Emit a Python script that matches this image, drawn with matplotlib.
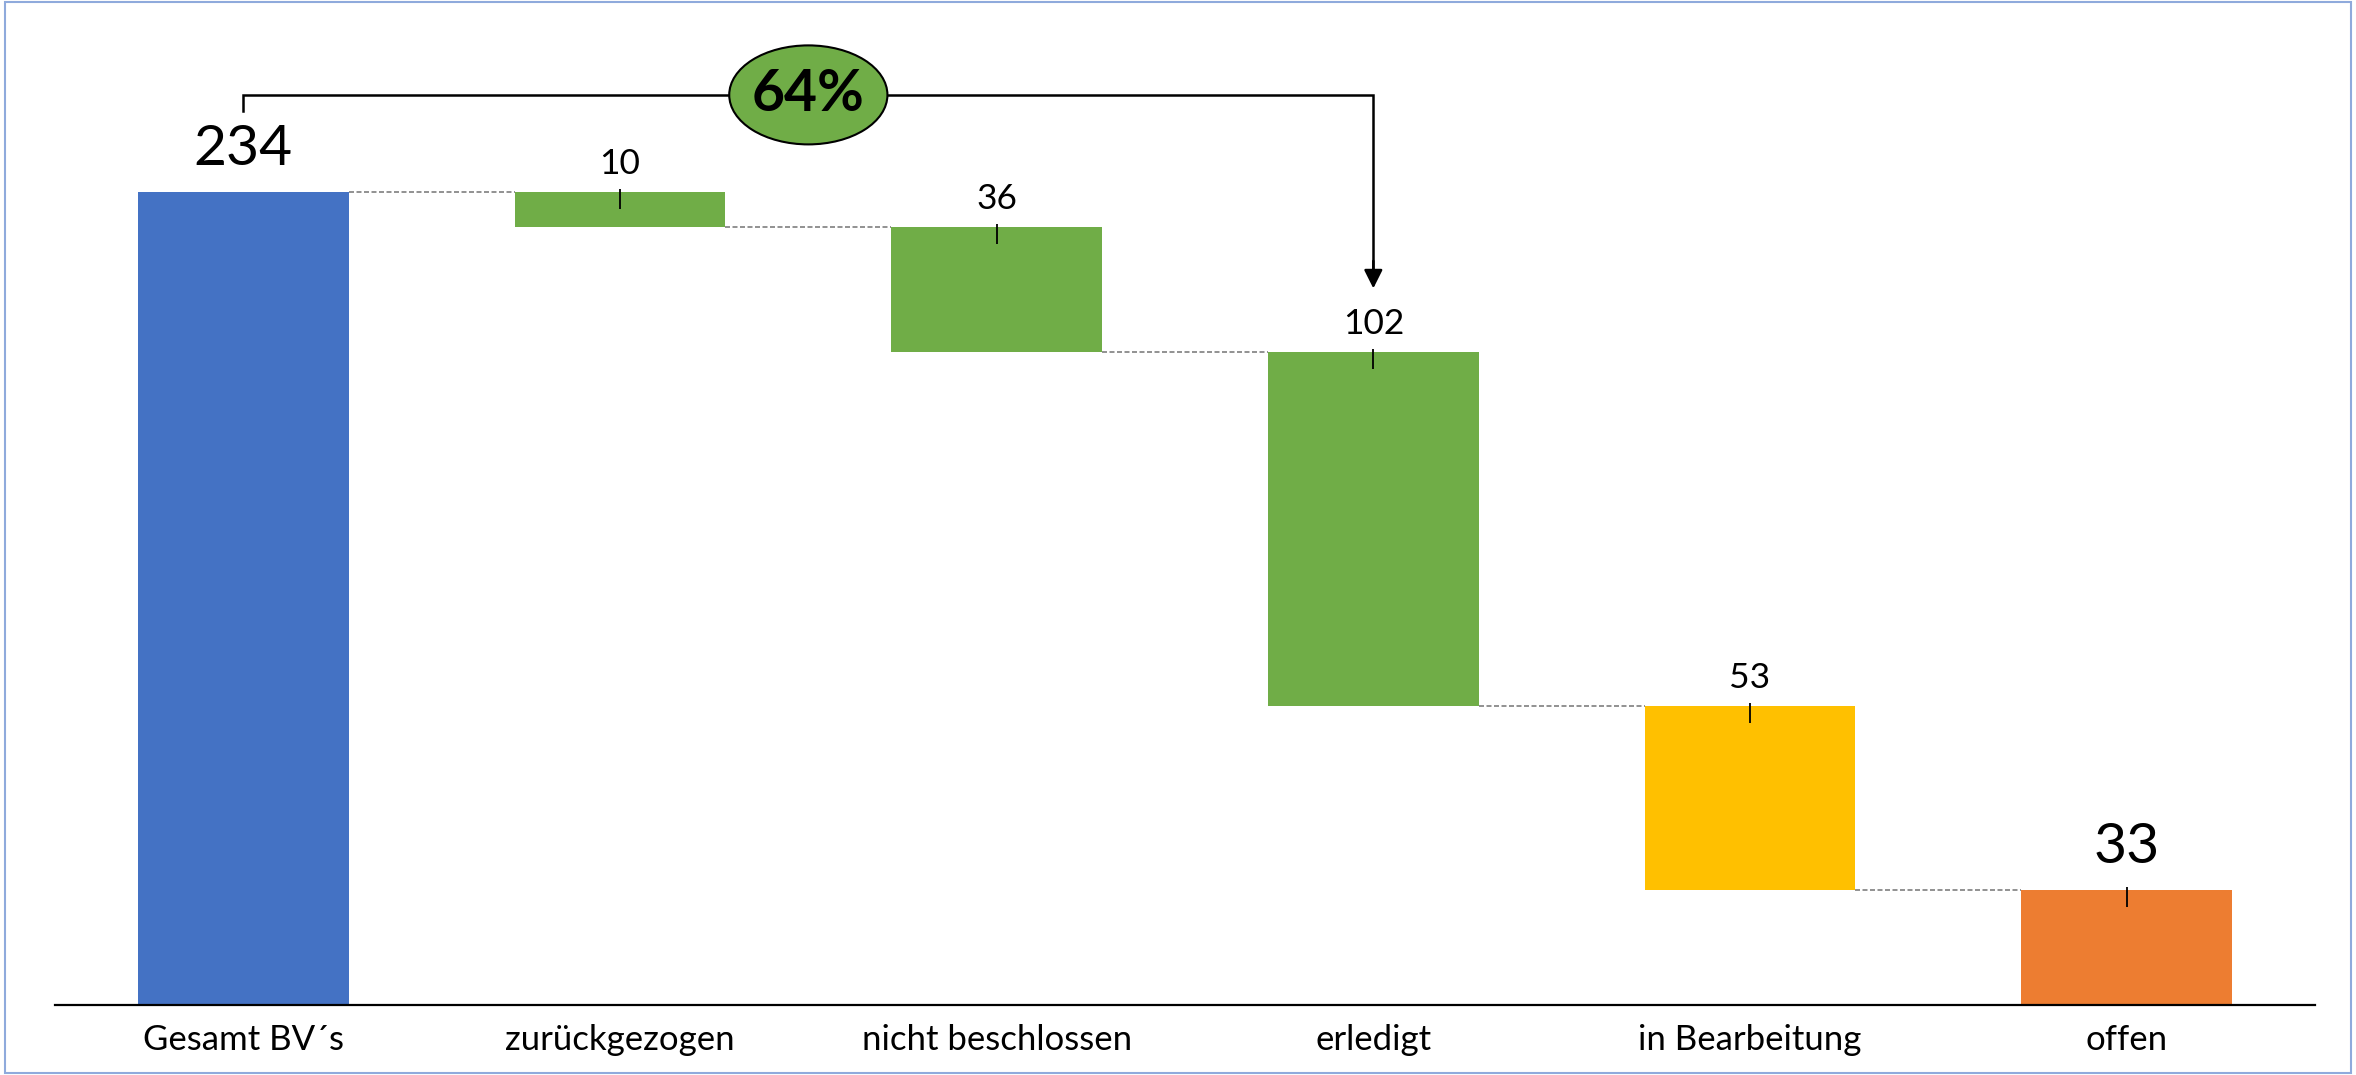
import matplotlib.pyplot as plt
from matplotlib.patches import Ellipse, Rectangle
import matplotlib.transforms as mtransforms

plt.rcParams['font.family'] = ['Lato', 'DejaVu Sans']

categories = ['Gesamt BV´s', 'zurückgezogen', 'nicht beschlossen', 'erledigt', 'in Bearbeitung', 'offen']
values = [234, 10, 36, 102, 53, 33]
bar_colors = ['#4472C4', '#70AD47', '#70AD47', '#70AD47', '#FFC000', '#ED7D31']
share_label = '64%'

# waterfall geometry: first and last are totals, the rest step down
bottoms = []
tops = []
level = values[0]
for i, v in enumerate(values):
    if i == 0 or i == len(values) - 1:
        bottoms.append(0)
        tops.append(v)
    else:
        tops.append(level)
        level = level - v
        bottoms.append(level)

fig = plt.figure(figsize=(23.56, 10.75), dpi=100)
ax = fig.add_axes([55 / 2356, 70 / 1075, 2260 / 2356, 990 / 1075])

x = list(range(len(categories)))
width = 0.56
heights = [t - b for t, b in zip(tops, bottoms)]
ax.bar(x, heights, bottom=bottoms, width=width, color=bar_colors, zorder=2)

# dashed connectors between bars
for i in range(len(values) - 1):
    lvl = bottoms[i] if 0 < i else tops[i]
    ax.plot([i + width / 2, i + 1 - width / 2], [lvl, lvl], ls=(0, (3, 1.5)),
            color='#7F7F7F', lw=1.2, zorder=1)

# little tick marks and value labels
tick_tr = mtransforms.offset_copy(ax.transData, fig=fig, x=0, y=-7, units='dots')
for i, v in enumerate(values):
    if i > 0:
        ax.plot([i], [tops[i]], marker='|', markersize=14, mew=1.3, color='black',
                transform=tick_tr, zorder=3)
    big = i == 0 or i == len(values) - 1
    ax.annotate(str(v), (i, tops[i]), xytext=(0, 31 if big else 20),
                textcoords='offset points', ha='center', va='center',
                fontsize=41 if big else 25.5, color='black')

# bracket with arrow from total to "erledigt"
yb = 262
ax.plot([0, 0, 3, 3], [257.5, yb, yb, 208], color='black', lw=1.8, clip_on=False,
        solid_joinstyle='miter')
ax.annotate('', xy=(3, 205.5), xytext=(3, 215),
            arrowprops=dict(arrowstyle='-|>', color='black', lw=1.8, mutation_scale=28),
            annotation_clip=False)
ax.add_patch(Ellipse((1.5, yb), 0.42, 28.5, facecolor='#70AD47', edgecolor='black',
                     lw=1.5, zorder=4, clip_on=False))
ax.text(1.5, yb, share_label, ha='center', va='center', fontsize=41,
        fontweight='bold', zorder=5)

ax.set_xlim(-0.5, 5.5)
ax.set_ylim(0, 285)
ax.set_xticks(x)
ax.set_xticklabels(categories, fontsize=25)
ax.tick_params(axis='x', length=0, pad=14)
ax.set_yticks([])
for s in ['top', 'right', 'left']:
    ax.spines[s].set_visible(False)
ax.spines['bottom'].set_linewidth(1.6)

fig.patches.append(Rectangle((0.002, 0.002), 0.996, 0.996, transform=fig.transFigure,
                             fill=False, edgecolor='#8FAADC', lw=1.5))

fig.savefig('out.png', dpi=100)
